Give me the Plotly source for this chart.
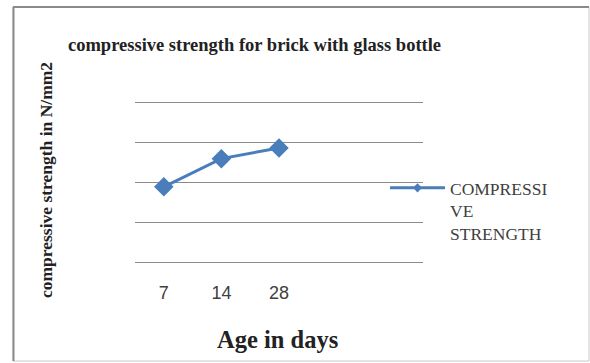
import plotly.graph_objects as go

# Data
categories = ["7", "14", "28"]
strength = [1.89, 2.60, 2.87]
y_grid = [0, 1, 2, 3, 4]
series_name = "COMPRESSI<br>VE<br>STRENGTH"
title_text = "compressive strength for brick with glass bottle"
x_title = "Age in days"
y_title = "compressive strength in N/mm2"

W, H = 590, 363
PAD = 0.1                      # range padding so edge gridlines are kept
unit = (262 - 103) / 4.0       # px per y unit
L, R = 135, 423
T = 103 - PAD * unit
B = 262 + PAD * unit
BLUE = "#4A7EBB"

fig = go.Figure()
fig.add_trace(go.Scatter(
    x=list(range(len(categories))), y=strength, mode="lines+markers",
    name=series_name, showlegend=False,
    line=dict(color=BLUE, width=3),
    marker=dict(symbol="diamond", size=15, color=BLUE),
))
# legend entry (small marker like the original legend key)
fig.add_trace(go.Scatter(
    x=[None], y=[None], mode="lines+markers", name=series_name,
    line=dict(color=BLUE, width=3),
    marker=dict(symbol="diamond", size=7, color=BLUE),
))

serif = "Liberation Serif, Times New Roman, serif"

def px(xp):
    return (xp - L) / (R - L)

def py(yp):
    return (B - yp) / (B - T)

fig.update_layout(
    width=W, height=H, autosize=False,
    margin=dict(l=L, r=W - R, t=T, b=H - B),
    paper_bgcolor="white", plot_bgcolor="white",
    showlegend=True,
    legend=dict(x=px(385), xanchor="left", y=py(170), yanchor="top",
                font=dict(family=serif, size=17.5, color="#404040"),
                valign="top", itemwidth=55, bgcolor="rgba(0,0,0,0)",
                tracegroupgap=0),
    xaxis=dict(range=[-0.5, 4.5], tickvals=list(range(len(categories))),
               ticktext=categories, showgrid=False, zeroline=False,
               showline=False, ticks="", ticklabelstandoff=14,
               tickfont=dict(family="Liberation Sans, Arial, sans-serif",
                             size=18, color="#404040")),
    yaxis=dict(range=[-PAD, 4 + PAD], tickvals=y_grid, showgrid=True,
               gridcolor="#8C8C8C", gridwidth=1.2, zeroline=False,
               showticklabels=False, showline=False, ticks=""),
    annotations=[
        dict(text="<b>" + title_text + "</b>", xref="paper", yref="paper",
             x=px(254), y=py(45), xanchor="center", yanchor="middle",
             showarrow=False,
             font=dict(family=serif, size=18.5, color="#222222")),
        dict(text="<b>" + x_title + "</b>", xref="paper", yref="paper",
             x=px(277), y=py(339), xanchor="center", yanchor="middle",
             showarrow=False,
             font=dict(family=serif, size=24.5, color="#222222")),
        dict(text="<b>" + y_title + "</b>", xref="paper", yref="paper",
             x=px(46), y=py(180), textangle=-90,
             xanchor="center", yanchor="middle", showarrow=False,
             font=dict(family=serif, size=17.5, color="#222222")),
    ],
    shapes=[
        dict(type="rect", xref="paper", yref="paper",
             x0=px(13), x1=px(589), y0=py(361), y1=py(7),
             line=dict(color="#C8C8C8", width=1)),
        dict(type="line", xref="paper", yref="paper",
             x0=px(13), x1=px(589), y0=py(7), y1=py(7),
             line=dict(color="#8A8A8A", width=2)),
        dict(type="line", xref="paper", yref="paper",
             x0=px(13.5), x1=px(13.5), y0=py(361), y1=py(7),
             line=dict(color="#8A8A8A", width=2)),
    ],
)

fig.write_html("out.html")
